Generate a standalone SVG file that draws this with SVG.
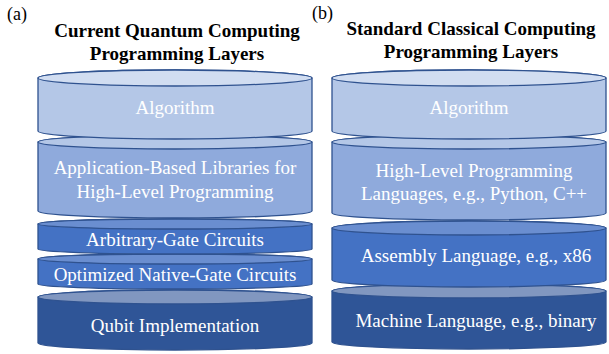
<svg xmlns="http://www.w3.org/2000/svg" width="609" height="354" viewBox="0 0 609 354">
<style>
.s{stroke:#2f528f;stroke-width:1.3}
.l1{fill:#b4c7e7}.t1{fill:#d1ddf1}
.l2{fill:#8faadc}.t2{fill:#b4c7e7}
.l3{fill:#4472c4}.t3{fill:#6a8ed0}
.l4{fill:#2f5597}.t4{fill:#8197c0}
.lab{font-size:19px;fill:#fff;text-anchor:middle}
.ttl{font-size:19px;font-weight:bold;fill:#000;text-anchor:middle}
.pl{font-size:18px;fill:#000}
</style>
<rect width="609" height="354" fill="#fff"/>
<g font-family="Liberation Serif, Times New Roman, serif">
<text class="pl" x="7" y="20">(a)</text>
<text class="pl" x="312" y="19">(b)</text>
<text class="ttl" x="177" y="37">Current Quantum Computing</text>
<text class="ttl" x="177" y="60">Programming Layers</text>
<text class="ttl" x="471" y="35">Standard Classical Computing</text>
<text class="ttl" x="471" y="58">Programming Layers</text>

<g id="q-qubit">
<path class="s l4" d="M38,297 V343 A137,7 0 0 0 312,343 V297 A137,7 0 0 0 38,297 Z"/>
<ellipse class="s t4" cx="175" cy="297" rx="137" ry="7"/>
<text class="lab" x="175" y="332">Qubit Implementation</text>
</g>
<g id="q-optimized">
<path class="s l3" d="M38,259 V284 A137,5 0 0 0 312,284 V259 A137,5 0 0 0 38,259 Z"/>
<ellipse class="s t3" cx="175" cy="259" rx="137" ry="5"/>
<text class="lab" x="175" y="281">Optimized Native-Gate Circuits</text>
</g>
<g id="q-arbitrary">
<path class="s l3" d="M38,224 V249 A137,5 0 0 0 312,249 V224 A137,5 0 0 0 38,224 Z"/>
<ellipse class="s t3" cx="175" cy="224" rx="137" ry="5"/>
<text class="lab" x="175" y="246">Arbitrary-Gate Circuits</text>
</g>
<g id="q-libraries">
<path class="s l2" d="M38,142 V211 A137,7 0 0 0 312,211 V142 A137,7 0 0 0 38,142 Z"/>
<ellipse class="s t2" cx="175" cy="142" rx="137" ry="7"/>
<text class="lab" x="175" y="174">Application-Based Libraries for</text>
<text class="lab" x="175" y="198">High-Level Programming</text>
</g>
<g id="q-algorithm">
<path class="s l1" d="M38,78 V131 A137,8 0 0 0 312,131 V78 A137,8 0 0 0 38,78 Z"/>
<ellipse class="s t1" cx="175" cy="78" rx="137" ry="8"/>
<text class="lab" x="175" y="114">Algorithm</text>
</g>

<g id="c-machine">
<path class="s l4" d="M332,291 V342 A137,7 0 0 0 606,342 V291 A137,7 0 0 0 332,291 Z"/>
<ellipse class="s t4" cx="469" cy="291" rx="137" ry="7"/>
<text class="lab" x="476" y="327">Machine Language, e.g., binary</text>
</g>
<g id="c-assembly">
<path class="s l3" d="M332,228 V280 A137,7 0 0 0 606,280 V228 A137,7 0 0 0 332,228 Z"/>
<ellipse class="s t3" cx="469" cy="228" rx="137" ry="7"/>
<text class="lab" x="476" y="262">Assembly Language, e.g., x86</text>
</g>
<g id="c-highlevel">
<path class="s l2" d="M332,142 V213 A137,7 0 0 0 606,213 V142 A137,7 0 0 0 332,142 Z"/>
<ellipse class="s t2" cx="469" cy="142" rx="137" ry="7"/>
<text class="lab" x="474" y="177">High-Level Programming</text>
<text class="lab" x="474" y="200">Languages, e.g., Python, C++</text>
</g>
<g id="c-algorithm">
<path class="s l1" d="M332,78 V131 A137,8 0 0 0 606,131 V78 A137,8 0 0 0 332,78 Z"/>
<ellipse class="s t1" cx="469" cy="78" rx="137" ry="8"/>
<text class="lab" x="469" y="114">Algorithm</text>
</g>
</g>
<g id="connectors"></g>
</svg>
